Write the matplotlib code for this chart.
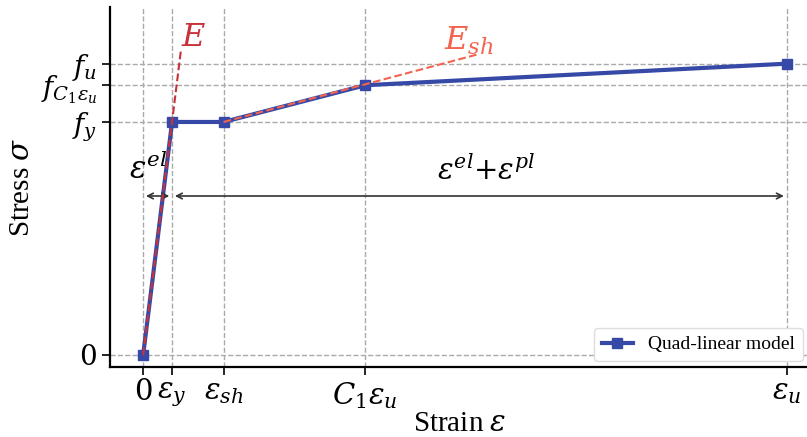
import matplotlib.pyplot as plt

plt.rcParams['font.family'] = ['Liberation Serif', 'DejaVu Serif']
plt.rcParams['mathtext.fontset'] = 'dejavuserif'

# Strain / stress points of the quad-linear model
strain = [0.0, 0.009, 0.025, 0.069, 0.2]
stress = [0.0, 400.0, 400.0, 463.0, 500.0]

x_ticklabels = [r'$0$', r'$\varepsilon_y$', r'$\varepsilon_{sh}$', r'$C_1\varepsilon_u$', r'$\varepsilon_u$']
y_ticks = [0.0, 400.0, 463.0, 500.0]
y_ticklabels = [r'$0$', r'$f_y$', r'$f_{C_1\varepsilon_u}$', r'$f_u$']

# Extended slope lines
E_line_x = [0.0, 0.0117]
E_line_y = [0.0, 521.0]
Esh_line_x = [0.025, 0.104]
Esh_line_y = [400.0, 516.0]

arrow_y = 273.0

fig = plt.figure(figsize=(8.07, 4.37), dpi=100)
ax = fig.add_axes([0.1363, 0.160, 0.866, 0.825])

ax.set_axisbelow(True)
ax.grid(True, linestyle='--', color='#aaaaaa', linewidth=1.0)

ax.plot(strain, stress, color='#3649a6', linewidth=3.0, marker='s',
        markersize=7, label='Quad-linear model', zorder=3)
ax.plot(E_line_x, E_line_y, color='#c8323a', linestyle='--', linewidth=1.5, zorder=4)
ax.plot(Esh_line_x, Esh_line_y, color='#f26450', linestyle='--', linewidth=1.5, zorder=4)

ax.text(0.0118, 518, r'$E$', color='#c8323a', fontsize=23, ha='left', va='bottom')
ax.text(0.0935, 512, r'$E_{sh}$', color='#f26450', fontsize=23, ha='left', va='bottom')

ax.annotate('', xy=(strain[0], arrow_y), xytext=(strain[1], arrow_y),
            arrowprops=dict(arrowstyle='<->', color='#333333', lw=1.2))
ax.annotate('', xy=(strain[1], arrow_y), xytext=(strain[4], arrow_y),
            arrowprops=dict(arrowstyle='<->', color='#333333', lw=1.2))
ax.text(0.0015, arrow_y + 18, r'$\varepsilon^{el}$', fontsize=22, ha='center', va='bottom')
ax.text(0.1065, arrow_y + 18, r'$\varepsilon^{el}{+}\varepsilon^{pl}$', fontsize=21,
        ha='center', va='bottom')

ax.set_xticks(strain)
ax.set_xticklabels(x_ticklabels, fontsize=21)
ax.set_yticks(y_ticks)
ax.set_yticklabels(y_ticklabels, fontsize=20)
ax.tick_params(length=6, width=1.2, direction='out')

ax.set_xlim(-0.0103, 0.2069)
ax.set_ylim(-20.5, 598)

ax.set_xlabel(r'Strain $\varepsilon$', fontsize=21, labelpad=0)
ax.set_ylabel(r'Stress $\sigma$', fontsize=21, labelpad=4)

for side in ['top', 'right']:
    ax.spines[side].set_visible(False)
for side in ['left', 'bottom']:
    ax.spines[side].set_linewidth(1.6)

ax.legend(loc='lower right', fontsize=14, framealpha=1.0, edgecolor='#dddddd',
          handlelength=1.6, borderaxespad=0.3)

fig.savefig('out.png', dpi=100)
